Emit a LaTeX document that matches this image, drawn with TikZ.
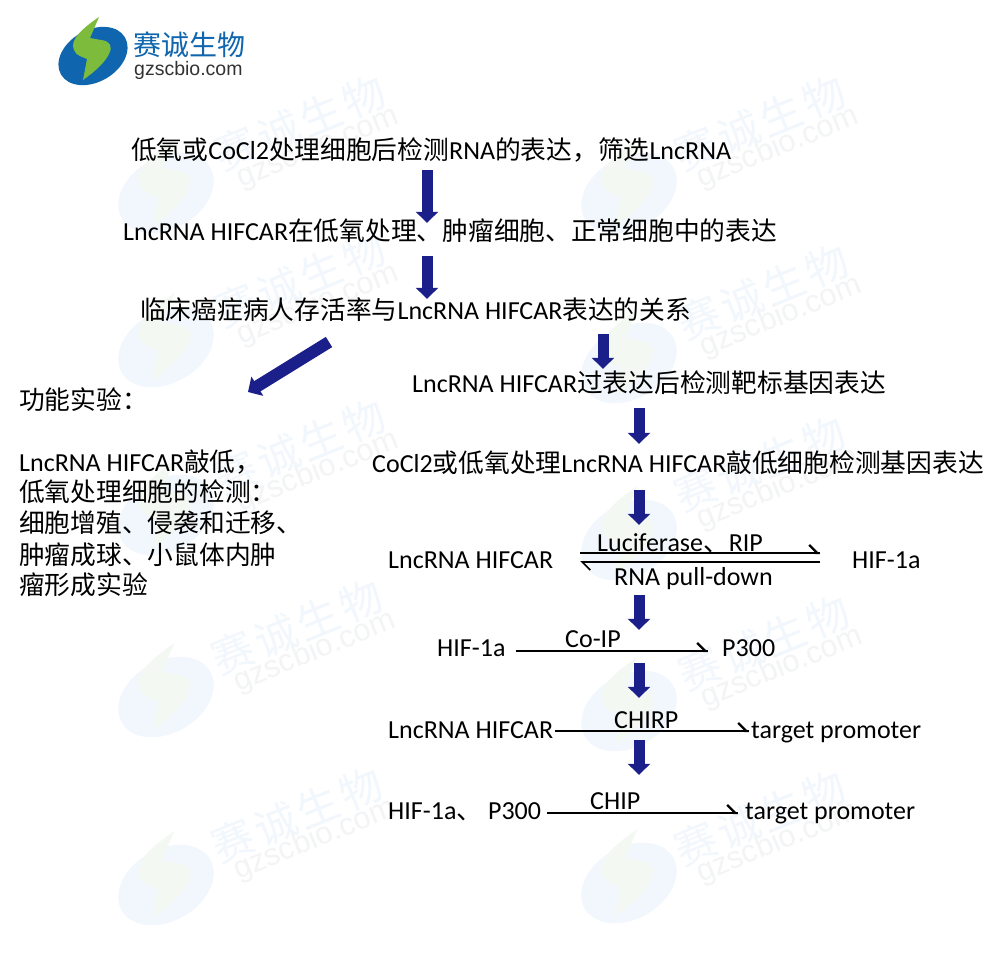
\documentclass[tikz,border=0pt]{standalone}
\usepackage{fontspec}
\usetikzlibrary{arrows.meta}
\setmainfont{Carlito}
\newfontfamily\cjk[Scale=0.99]{Noto Sans CJK SC}
\newfontfamily\wmcjk[LetterSpace=10]{Noto Sans CJK SC}
\newfontfamily\brandcjk{Noto Sans CJK SC}
\newfontfamily\wmlat{Liberation Sans}
\newcommand{\zh}[1]{{\cjk #1}}
\definecolor{flowblue}{HTML}{1B1F8A}
\definecolor{logoblue}{HTML}{0F66AE}
\definecolor{logogreen}{HTML}{7CBB3C}
\definecolor{paleblue}{HTML}{F1F7FC}
\definecolor{palegreen}{HTML}{F4F8F2}
\definecolor{palegrey}{HTML}{F3F4F5}
\tikzset{
  txt/.style={anchor=west, inner sep=0pt, text height=20pt, text depth=4pt, font=\fontsize{26}{30}\selectfont},
  lab/.style={txt},
  flowarrow/.style={line width=11pt, flowblue, -{Triangle[width=22pt,length=11pt]}},
  rline/.style={line width=1.6pt, black},
  rend/.style={line width=2.3pt, black, -{Straight Barb[left,length=8pt,width=16pt]}},
  wmzh/.style={rotate=22, text=paleblue, font=\wmcjk\fontsize{42}{42}\selectfont},
  wmen/.style={rotate=22, text=palegrey, font=\wmlat\fontsize{31}{31}\selectfont},
  pics/logomark/.style 2 args={code={
    \fill[#1, rotate=30] (0,0) ellipse (37 and 26);
    \fill[#2] (6,-39) .. controls (-10,-28) and (-24,-16) .. (-19,-6)
      .. controls (-17,0) and (-10,1) .. (-6,3) -- (-10,24)
      .. controls (4,14) and (12,6) .. (16,-2)
      .. controls (20,-10) and (17,-15) .. (8,-16) -- (-3,-18) -- cycle;
  }}
}
\begin{document}
\begin{tikzpicture}[x=1pt, y=-1pt]
    \useasboundingbox (0,0) rectangle (1000,961);
    \fill[white] (0,0) rectangle (1000,961);

    % Watermarks
    \foreach \px/\py in {166/193, 166/347, 166/515, 166/697, 166/885, 629/193, 629/363, 629/540, 629/711, 629/883}
        \pic[scale=1.38] at (\px,\py) {logomark={paleblue}{palegreen}};
    \foreach \px/\py in {300/123, 300/280, 300/447, 297/627, 297/815, 760/123, 763/292, 760/464, 764/643, 760/818} {
        \node[wmzh] (wz\px\py) at (\px,\py) {赛诚生物};
        \node[wmen] (we\px\py) at ({\px+18},{\py+25}) {gzscbio.com};
    }

    % Company logo
    \pic at (93,56) {logomark={logoblue}{logogreen}};
    \node[anchor=west, inner sep=0pt, text=logoblue, font=\brandcjk\fontsize{28}{28}\selectfont] (brand) at (133,45) {赛诚生物};
    \node[anchor=west, inner sep=0pt, text=black!80, font=\wmlat\fontsize{19.5}{20}\selectfont] (site) at (134,70) {gzscbio.com};

    % Main steps
    \node[txt] (stepa) at (131,151) {\zh{低氧或}CoCl2\zh{处理细胞后检测}RNA\zh{的表达，筛选}LncRNA};
    \node[txt] (stepb) at (123,232) {LncRNA HIFCAR\zh{在低氧处理、肿瘤细胞、正常细胞中的表达}};
    \node[txt] (stepc) at (140,311) {\zh{临床癌症病人存活率与}LncRNA HIFCAR\zh{表达的关系}};
    \node[txt] (stepd) at (412,384) {LncRNA HIFCAR\zh{过表达后检测靶标基因表达}};
    \node[txt] (stepe) at (372,464) {CoCl2\zh{或低氧处理}LncRNA HIFCAR\zh{敲低细胞检测基因表达}};

    % Functional assays
    \node[txt] (func) at (19,401) {\zh{功能实验：}};
    \node[txt] (funca) at (19,463) {LncRNA HIFCAR\zh{敲低，}};
    \node[txt] (funcb) at (19,493) {\zh{低氧处理细胞的检测：}};
    \node[txt] (funcc) at (19,524) {\zh{细胞增殖、侵袭和迁移、}};
    \node[txt] (funcd) at (19,556) {\zh{肿瘤成球、小鼠体内肿}};
    \node[txt] (funce) at (19,586) {\zh{瘤形成实验}};

    % Interaction rows
    \node[txt] (lnca) at (388,560) {LncRNA HIFCAR};
    \node[txt] (hifa) at (852,560) {HIF-1a};
    \node[lab] (luci) at (597,543) {Luciferase\zh{、}RIP};
    \node[lab] (pull) at (614,577) {RNA pull-down};

    \node[txt] (hifb) at (437,648) {HIF-1a};
    \node[txt] (pthree) at (722,648) {P300};
    \node[lab] (coip) at (565,639) {Co-IP};

    \node[txt] (lncc) at (388,730) {LncRNA HIFCAR};
    \node[txt] (tarc) at (751,730) {target promoter};
    \node[lab] (chirp) at (614,720) {CHIRP};

    \node[txt] (hifd) at (388,811) {HIF-1a\zh{、} P300};
    \node[txt] (tard) at (745,811) {target promoter};
    \node[lab] (chip) at (590,801) {CHIP};

    % Block arrows
    \coordinate (cola) at (427,0);
    \coordinate (colb) at (603,0);
    \coordinate (colc) at (639,0);
    \coordinate (diaga) at (329,342);
    \coordinate (diagb) at (248,392);
    \draw[flowarrow, shorten <=7pt, shorten >=-3pt] (stepa.south -| cola) -- (stepb.north -| cola);
    \draw[flowarrow, shorten <=12pt, shorten >=0pt] (stepb.south -| cola) -- (stepc.north -| cola);
    \draw[flowarrow, line width=12pt] (diaga) -- (diagb);
    \draw[flowarrow, shorten <=11pt, shorten >=3pt] (stepc.south -| colb) -- (stepd.north -| colb);
    \draw[flowarrow, shorten <=12pt, shorten >=8pt] (stepd.south -| colc) -- (stepe.north -| colc);
    \draw[flowarrow, shorten <=14pt, shorten >=23pt] (stepe.south -| colc) -- (lnca.north -| colc);
    \draw[flowarrow, shorten <=23pt, shorten >=6pt] (lnca.south -| colc) -- (hifb.north -| colc);
    \draw[flowarrow, shorten <=3pt, shorten >=20pt] (hifb.south -| colc) -- (lncc.north -| colc);
    \draw[flowarrow, shorten <=-2pt, shorten >=24pt] (lncc.south -| colc) -- (hifd.north -| colc);

    % Thin reaction arrows
    \draw[rline, shorten <=27pt, shorten >=32pt] ([yshift=7pt]lnca.east) -- ([yshift=7pt]hifa.west);
    \draw[rend, shorten <=225pt, shorten >=32pt] ([yshift=7pt]lnca.east) -- ([yshift=7pt]hifa.west);
    \draw[rline, shorten <=32pt, shorten >=27pt, -{Straight Barb[left,length=8pt,width=16pt]}] ([yshift=-2pt]hifa.west) -- ([yshift=-2pt]lnca.east);
    \draw[rline, line width=2.3pt, shorten <=32pt, shorten >=225pt] ([yshift=-2pt]hifa.west) -- ([yshift=-2pt]lnca.east);

    \draw[rline, shorten <=10pt, shorten >=14pt] ([yshift=-3pt]hifb.east) -- ([yshift=-3pt]pthree.west);
    \draw[rend, shorten <=150pt, shorten >=14pt] ([yshift=-3pt]hifb.east) -- ([yshift=-3pt]pthree.west);

    \draw[rline, shorten <=2pt, shorten >=2pt] ([yshift=-1pt]lncc.east) -- ([yshift=-1pt]tarc.west);
    \draw[rend, shorten <=155pt, shorten >=2pt] ([yshift=-1pt]lncc.east) -- ([yshift=-1pt]tarc.west);

    \draw[rline, shorten <=6pt, shorten >=7pt] ([yshift=-2pt]hifd.east) -- ([yshift=-2pt]tard.west);
    \draw[rend, shorten <=150pt, shorten >=7pt] ([yshift=-2pt]hifd.east) -- ([yshift=-2pt]tard.west);
\end{tikzpicture}
\end{document}
